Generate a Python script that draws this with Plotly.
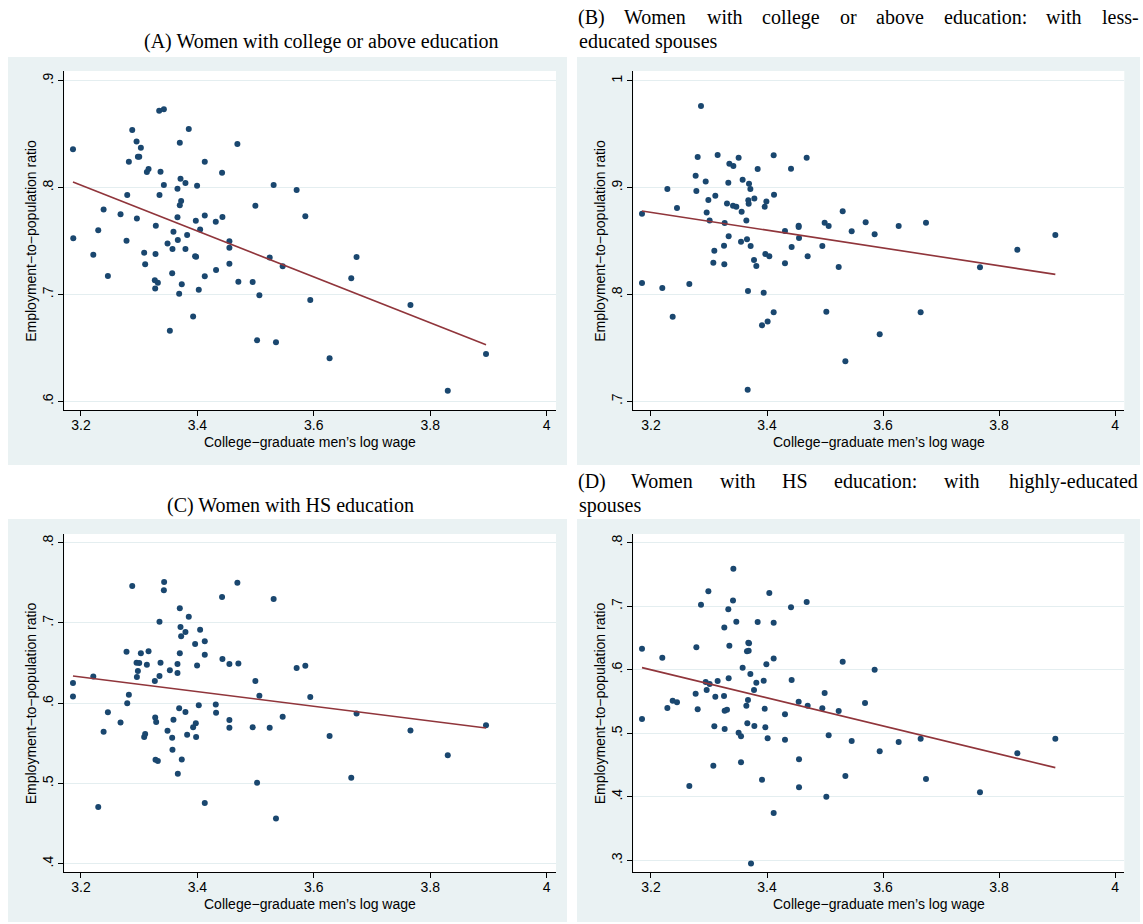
import plotly.graph_objects as go

W, H = 1143, 924

# ---------------- data ----------------
xA = [3.1863,3.1868,3.2212,3.2297,3.2389,3.2463,3.2680,3.2783,3.2795,3.2823,
      3.2881,3.2955,3.2961,3.2978,3.3001,3.3029,3.3086,3.3103,3.3132,3.3161,
      3.3286,3.3269,3.3275,3.3281,3.3321,3.3344,3.3424,3.3349,3.3367,3.3424,
      3.3487,3.3527,3.3567,3.3572,3.3589,3.3658,3.3658,3.3664,3.3687,3.3698,
      3.3698,3.3710,3.3721,3.3732,3.3795,3.3795,3.3824,3.3852,3.3927,3.3961,
      3.3973,3.3978,3.3995,3.4024,3.4047,3.4127,3.4127,3.4127,3.4316,3.4321,
      3.4424,3.4430,3.4550,3.4550,3.4550,3.4687,3.4704,3.4950,3.4996,3.5025,
      3.5065,3.5242,3.5310,3.5350,3.5465,3.5705,3.5854,3.5939,3.6271,3.6643,
      3.6734,3.7660,3.8301,3.8958]
yA = [0.8358,0.7525,0.7372,0.7600,0.7796,0.7173,0.7750,0.7503,0.7930,0.8242,
      0.8539,0.8432,0.7712,0.8289,0.8289,0.8373,0.7391,0.7282,0.8146,0.8174,
      0.7644,0.7132,0.7057,0.7379,0.7110,0.8719,0.8732,0.7930,0.8149,0.8024,
      0.7478,0.6661,0.7198,0.7425,0.7587,0.7990,0.7722,0.7510,0.7007,0.8420,
      0.7834,0.8083,0.7874,0.7095,0.8043,0.7425,0.7556,0.8548,0.6795,0.7357,
      0.7690,0.7354,0.8018,0.7045,0.7609,0.8242,0.7740,0.7170,0.7681,0.7229,
      0.8139,0.7725,0.7438,0.7497,0.7288,0.8408,0.7120,0.7117,0.7831,0.6571,
      0.6992,0.7347,0.8024,0.6552,0.7263,0.7977,0.7731,0.6948,0.6403,0.7151,
      0.7350,0.6901,0.6100,0.6443]
fitA_x = [3.1863, 3.8958]
fitA_y = [0.8052, 0.6530]

xB = [3.1845,3.1845,3.2195,3.2282,3.2374,3.2448,3.2661,3.2770,3.2782,3.2805,
      3.2862,3.2943,3.2960,3.2989,3.3011,3.3092,3.3075,3.3109,3.3149,3.3259,
      3.3264,3.3270,3.3310,3.3333,3.3339,3.3351,3.3414,3.3420,3.3471,3.3511,
      3.3552,3.3563,3.3580,3.3644,3.3655,3.3667,3.3672,3.3678,3.3684,3.3690,
      3.3713,3.3718,3.3776,3.3782,3.3816,3.3839,3.3914,3.3943,3.3960,3.3971,
      3.3989,3.4011,3.4040,3.4115,3.4115,3.4121,3.4310,3.4310,3.4414,3.4425,
      3.4546,3.4552,3.4546,3.4684,3.4701,3.4954,3.4994,3.5023,3.5063,3.5236,
      3.5305,3.5351,3.5460,3.5701,3.5856,3.5943,3.6270,3.6649,3.6741,3.7672,
      3.8316,3.8971]
yB = [0.8756,0.8107,0.8060,0.8987,0.7792,0.8809,0.8098,0.9111,0.8968,0.9286,
      0.9763,0.9058,0.8768,0.8884,0.8693,0.8410,0.8297,0.8924,0.9305,0.8456,
      0.8282,0.8669,0.8852,0.9046,0.8544,0.9224,0.8831,0.9202,0.8821,0.9280,
      0.8494,0.8775,0.9074,0.8693,0.8516,0.7109,0.8032,0.8881,0.8849,0.9036,
      0.8987,0.8453,0.8322,0.8899,0.8266,0.9174,0.7711,0.8017,0.8821,0.8379,
      0.8871,0.7746,0.8357,0.9302,0.7833,0.8934,0.8291,0.8594,0.9177,0.8444,
      0.8644,0.8528,0.8632,0.9280,0.8357,0.8453,0.8672,0.7839,0.8640,0.8257,
      0.8778,0.7374,0.8591,0.8675,0.8563,0.7627,0.8640,0.7833,0.8672,0.8254,
      0.8419,0.8556]
fitB_x = [3.1845, 3.8971]
fitB_y = [0.8781, 0.8188]

xC = [3.1863,3.1863,3.2212,3.2297,3.2389,3.2463,3.2680,3.2783,3.2795,3.2823,
      3.2881,3.2955,3.2961,3.2978,3.3001,3.3029,3.3086,3.3103,3.3132,3.3161,
      3.3269,3.3275,3.3281,3.3292,3.3321,3.3349,3.3349,3.3367,3.3424,3.3429,
      3.3487,3.3527,3.3567,3.3572,3.3589,3.3658,3.3658,3.3664,3.3687,3.3698,
      3.3698,3.3710,3.3721,3.3732,3.3795,3.3795,3.3824,3.3852,3.3927,3.3961,
      3.3973,3.3978,3.3995,3.4024,3.4047,3.4127,3.4127,3.4127,3.4316,3.4321,
      3.4424,3.4430,3.4550,3.4550,3.4550,3.4687,3.4704,3.4950,3.4996,3.5025,
      3.5065,3.5242,3.5310,3.5350,3.5465,3.5705,3.5854,3.5939,3.6271,3.6643,
      3.6734,3.7660,3.8301,3.8958]
yC = [0.6251,0.6085,0.6334,0.4706,0.5645,0.5886,0.5761,0.6642,0.5998,0.6106,
      0.7460,0.6505,0.6326,0.6401,0.6501,0.6621,0.5578,0.5616,0.6480,0.6646,
      0.6276,0.5823,0.5296,0.5765,0.5279,0.7016,0.6339,0.6505,0.7406,0.7510,
      0.5657,0.6409,0.5570,0.5421,0.5794,0.6488,0.6376,0.5122,0.5936,0.7182,
      0.6621,0.6949,0.6833,0.5300,0.6887,0.5890,0.5607,0.7078,0.5699,0.6737,
      0.5749,0.5578,0.6471,0.5973,0.6916,0.4756,0.6771,0.6604,0.5985,0.5882,
      0.7323,0.6550,0.6488,0.5790,0.5695,0.7502,0.6496,0.5699,0.6276,0.5009,
      0.6093,0.5695,0.7298,0.4565,0.5832,0.6438,0.6467,0.6077,0.5591,0.5072,
      0.5873,0.5661,0.5350,0.5724]
fitC_x = [3.1863, 3.8958]
fitC_y = [0.6339, 0.5691]

xD = [3.1845,3.1845,3.2195,3.2282,3.2374,3.2448,3.2661,3.2770,3.2782,3.2805,
      3.2862,3.2943,3.2960,3.2989,3.3011,3.3075,3.3092,3.3109,3.3149,3.3259,
      3.3264,3.3270,3.3270,3.3310,3.3333,3.3339,3.3351,3.3414,3.3420,3.3471,
      3.3511,3.3552,3.3552,3.3580,3.3644,3.3655,3.3661,3.3672,3.3678,3.3684,
      3.3690,3.3713,3.3724,3.3776,3.3782,3.3816,3.3839,3.3914,3.3943,3.3960,
      3.3971,3.3989,3.4011,3.4040,3.4115,3.4115,3.4115,3.4310,3.4310,3.4414,
      3.4425,3.4546,3.4552,3.4552,3.4684,3.4701,3.4954,3.4994,3.5023,3.5063,
      3.5236,3.5305,3.5351,3.5460,3.5690,3.5856,3.5943,3.6270,3.6649,3.6741,
      3.7672,3.8316,3.8971]
yD = [0.6332,0.5225,0.6190,0.5398,0.5513,0.5487,0.4170,0.5623,0.6353,0.5377,
      0.7024,0.5807,0.5681,0.7234,0.5775,0.4490,0.5109,0.5576,0.5823,0.5587,
      0.6667,0.5067,0.5356,0.5371,0.6951,0.5865,0.6379,0.7092,0.7591,0.6757,
      0.5009,0.4952,0.4542,0.6033,0.5434,0.6290,0.5156,0.5524,0.6426,0.6300,
      0.6416,0.5933,0.2948,0.5681,0.5114,0.5796,0.6751,0.4270,0.5828,0.5387,
      0.5093,0.6085,0.4920,0.7208,0.6741,0.6179,0.3745,0.5298,0.4899,0.6982,
      0.5838,0.5497,0.4590,0.4149,0.7066,0.5434,0.5392,0.5634,0.4002,0.4967,
      0.5350,0.6127,0.4327,0.4878,0.5476,0.6001,0.4716,0.4863,0.4915,0.4280,
      0.4070,0.4684,0.4915]
fitD_x = [3.1845, 3.8971]
fitD_y = [0.6033, 0.4459]

x_ticks = [3.2, 3.4, 3.6, 3.8, 4.0]
x_ticklabels = ["3.2", "3.4", "3.6", "3.8", "4"]
yticks_A = [0.6, 0.7, 0.8, 0.9]; ylab_A = [".6", ".7", ".8", ".9"]
yticks_B = [0.7, 0.8, 0.9, 1.0]; ylab_B = [".7", ".8", ".9", "1"]
yticks_C = [0.4, 0.5, 0.6, 0.7, 0.8]; ylab_C = [".4", ".5", ".6", ".7", ".8"]
yticks_D = [0.3, 0.4, 0.5, 0.6, 0.7, 0.8]; ylab_D = [".3", ".4", ".5", ".6", ".7", ".8"]

x_title = "College\u2212graduate men\u2019s log wage"
y_title = "Employment\u2212to\u2212population ratio"

# ---------------- styling ----------------
NAVY = "#1A476F"
MAROON = "#90353B"
BG = "#EAF2F3"
GRID = "#E4EEF0"
SANS = "Liberation Sans, Arial, sans-serif"
SERIF = "Liberation Serif, Times New Roman, serif"


def px(p):
    return p / W


def py(p):
    return 1 - p / H


panels = [
    ("1", xA, yA, fitA_x, fitA_y, yticks_A, ylab_A, (64.3, 556), (71, 410),
     [3.1714, 4.016], [0.5919, 0.9091], (8, 567, 57, 465)),
    ("2", xB, yB, fitB_x, fitB_y, yticks_B, ylab_B, (633.3, 1124.3), (71, 410),
     [3.1695, 4.016], [0.6919, 1.0091], (577, 1140, 57, 465)),
    ("3", xC, yC, fitC_x, fitC_y, yticks_C, ylab_C, (64.3, 556), (534, 872),
     [3.1714, 4.016], [0.3897, 0.8108], (8, 567, 519, 922)),
    ("4", xD, yD, fitD_x, fitD_y, yticks_D, ylab_D, (633.3, 1124.3), (534, 872),
     [3.1695, 4.016], [0.2816, 0.8137], (577, 1140, 519, 922)),
]

fig = go.Figure()
shapes = []
annotations = []
layout_axes = {}

for (name, xs, ys, fx, fy, yt, yl, xd, yd, xr, yr, box) in panels:
    xa = "x" if name == "1" else "x" + name
    ya = "y" if name == "1" else "y" + name
    fig.add_trace(go.Scatter(
        x=xs, y=ys, mode="markers", xaxis=xa, yaxis=ya,
        marker=dict(color=NAVY, size=6, line=dict(width=0)),
        showlegend=False, hoverinfo="skip"))
    fig.add_trace(go.Scatter(
        x=fx, y=fy, mode="lines", xaxis=xa, yaxis=ya,
        line=dict(color=MAROON, width=1.6),
        showlegend=False, hoverinfo="skip"))

    xkey = "xaxis" if name == "1" else "xaxis" + name
    ykey = "yaxis" if name == "1" else "yaxis" + name
    layout_axes[xkey] = dict(
        domain=[px(xd[0]), px(xd[1])], range=xr, anchor=ya,
        tickmode="array", tickvals=x_ticks, ticktext=x_ticklabels,
        showgrid=False, zeroline=False, showline=True, linecolor="#000000",
        linewidth=1, ticks="outside", ticklen=5, tickcolor="#000000",
        ticklabelstandoff=-3,
        tickfont=dict(family=SANS, size=14, color="#000000"))
    layout_axes[ykey] = dict(
        domain=[py(yd[1]), py(yd[0])], range=yr, anchor=xa,
        tickmode="array", tickvals=yt, ticktext=yl, tickangle=-90,
        showgrid=True, gridcolor=GRID, gridwidth=1.2,
        zeroline=False, showline=True, linecolor="#000000",
        linewidth=1, ticks="outside", ticklen=5, tickcolor="#000000",
        tickfont=dict(family=SANS, size=14, color="#000000"))

    x0, x1, y0, y1 = box
    shapes.append(dict(type="rect", xref="paper", yref="paper",
                       x0=px(x0), x1=px(x1), y0=py(y1), y1=py(y0),
                       fillcolor=BG, line=dict(width=0), layer="below"))
    shapes.append(dict(type="rect", xref="paper", yref="paper",
                       x0=px(xd[0]), x1=px(xd[1]), y0=py(yd[1]), y1=py(yd[0]),
                       fillcolor="#FFFFFF", line=dict(width=0), layer="below"))

    annotations.append(dict(
        text=x_title, xref="paper", yref="paper",
        x=px((xd[0] + xd[1]) / 2), y=py(yd[1] + 32),
        xanchor="center", yanchor="middle", showarrow=False,
        font=dict(family=SANS, size=14, color="#000000")))
    annotations.append(dict(
        text=y_title, xref="paper", yref="paper",
        x=px(xd[0] - 33), y=py((yd[0] + yd[1]) / 2),
        xanchor="center", yanchor="middle", showarrow=False, textangle=-90,
        font=dict(family=SANS, size=14, color="#000000")))

# ---------------- panel captions ----------------
cap_font = dict(family=SERIF, size=20, color="#000000")


def cap(text, xc, yc, anchor="center"):
    annotations.append(dict(text=text, xref="paper", yref="paper",
                            x=px(xc), y=py(yc), xanchor=anchor, yanchor="middle",
                            showarrow=False, font=cap_font))


cap("(A) Women with college or above education", 321.5, 42)
cap("(C) Women with HS education", 290, 505)

# justified first lines (word centres spread across the column width)
words_B = ["(B)", "Women", "with", "college", "or", "above", "education:", "with", "less-"]
centers_B = [591, 655, 725, 791, 848, 900, 985, 1064, 1120]
for w, c in zip(words_B, centers_B):
    cap(w, c, 17)
cap("educated spouses", 577, 42, anchor="left")

words_D = ["(D)", "Women", "with", "HS", "education:", "with", "highly-educated"]
centers_D = [592, 662, 738, 795, 875, 962, 1073]
for w, c in zip(words_D, centers_D):
    cap(w, c, 481)
cap("spouses", 577, 505, anchor="left")

fig.update_layout(
    width=W, height=H, margin=dict(l=0, r=0, t=0, b=0),
    paper_bgcolor="#FFFFFF", plot_bgcolor="rgba(0,0,0,0)",
    shapes=shapes, annotations=annotations, showlegend=False,
    **layout_axes)

fig.write_html("out.html", config={"displayModeBar": False},
               post_script="document.body.style.margin='0';document.body.style.overflow='hidden';")
